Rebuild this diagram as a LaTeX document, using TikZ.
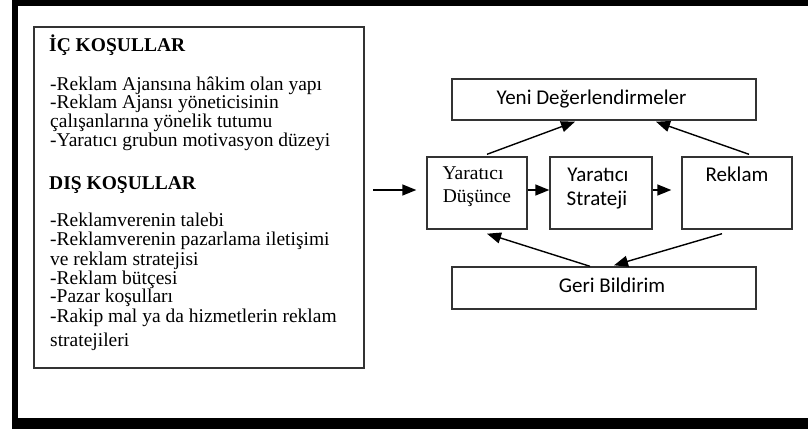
\documentclass[tikz,border=0pt]{standalone}
\usepackage{fontspec}
\setmainfont{Liberation Serif}
\newfontfamily\carl{Carlito}
\usetikzlibrary{arrows.meta}
\begin{document}
\begin{tikzpicture}[x=1pt,y=-1pt,
  box/.style={draw=black!80,line width=1.4pt,inner sep=0pt,fill=white},
  ltxt/.style={anchor=base west,inner sep=0pt,font=\fontsize{19.5}{19.5}\selectfont},
  stxt/.style={anchor=base,inner sep=0pt,font=\fontsize{19.5}{19.5}\selectfont},
  ctxt/.style={anchor=base,inner sep=0pt,font=\carl\fontsize{21}{21}\selectfont},
  arr/.style={line width=1.4pt,-{Triangle[length=14pt,width=11pt]}}]
\useasboundingbox (0,0) rectangle (808,429);
% outer frame
\fill[black] (12,0) rectangle (808,6);
\fill[black] (12,0) rectangle (18,429);
\fill[black] (12,418) rectangle (808,429);
% left box
\node[box,minimum width=330pt,minimum height=341pt] (lb) at (199,197.5) {};
\node[ltxt,font=\bfseries\fontsize{19.5}{19.5}\selectfont] (h1) at (49,51.7) {İÇ KOŞULLAR};
\node[ltxt] (l1) at (50,90.7) {-Reklam Ajansına hâkim olan yapı};
\node[ltxt] (l2) at (50,108.7) {-Reklam Ajansı yöneticisinin};
\node[ltxt] (l3) at (50,127) {çalışanlarına yönelik tutumu};
\node[ltxt] (l4) at (50,146) {-Yaratıcı grubun motivasyon düzeyi};
\node[ltxt,font=\bfseries\fontsize{19.5}{19.5}\selectfont] (h2) at (49,189) {DIŞ KOŞULLAR};
\node[ltxt] (m1) at (50,226.7) {-Reklamverenin talebi};
\node[ltxt] (m2) at (50,245.7) {-Reklamverenin pazarlama iletişimi};
\node[ltxt] (m3) at (50,265) {ve reklam stratejisi};
\node[ltxt] (m4) at (50,284) {-Reklam bütçesi};
\node[ltxt] (m5) at (50,302.5) {-Pazar koşulları};
\node[ltxt] (m6) at (50,322) {-Rakip mal ya da hizmetlerin reklam};
\node[ltxt] (m7) at (50,346.7) {stratejileri};
% right boxes
\node[box,minimum width=304pt,minimum height=41pt] (yeni) at (604,99.5) {};
\node[box,minimum width=100pt,minimum height=72pt] (yd) at (477,193) {};
\node[box,minimum width=102pt,minimum height=72pt] (ys) at (601,193) {};
\node[box,minimum width=110pt,minimum height=72pt] (rk) at (737,193) {};
\node[box,minimum width=304pt,minimum height=42pt] (geri) at (604,288) {};
% texts
\node[ctxt] (tyeni) at (591.5,104) {Yeni Değerlendirmeler};
\node[stxt] (tyd1) at (473,179) {Yaratıcı};
\node[stxt] (tyd2) at (477,202) {Düşünce};
\node[ctxt] (tys1) at (598,181) {Yaratıcı};
\node[ctxt] (tys2) at (597,205) {Strateji};
\node[ctxt] (trk) at (737,181) {Reklam};
\node[ctxt] (tgeri) at (612,292) {Geri Bildirim};
% connectors
\coordinate (inS) at (373,190);
\draw[arr,shorten >=10pt] (inS) -- (yd.west |- inS);
\draw[arr] ([yshift=3pt]yd.east) -- ([yshift=3pt]ys.west);
\draw[arr,shorten >=10pt] ([yshift=3pt]ys.east) -- ([yshift=3pt]rk.west);
\draw[arr] ([xshift=10pt,yshift=2pt]yd.north) -- ([xshift=-29pt,yshift=-1pt]yeni.south);
\draw[arr] ([xshift=12pt,yshift=2pt]rk.north) -- ([xshift=52pt,yshift=-1pt]yeni.south);
\draw[arr] ([xshift=-14pt]geri.north) -- ([xshift=10pt,yshift=-4pt]yd.south);
\draw[arr] ([xshift=-15pt,yshift=-4pt]rk.south) -- ([xshift=10pt,yshift=1pt]geri.north);
\end{tikzpicture}
\end{document}
